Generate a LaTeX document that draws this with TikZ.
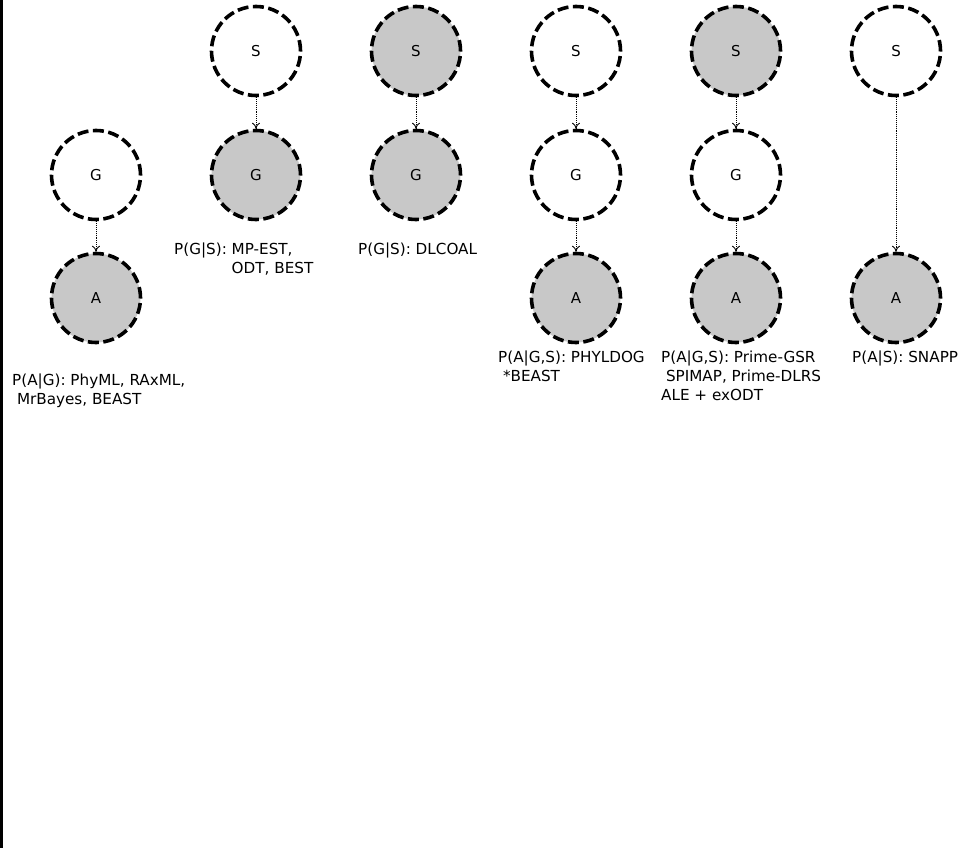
\documentclass[tikz,border=0pt]{standalone}
\usepackage{fontspec}
\setmainfont{DejaVu Sans}
\usetikzlibrary{arrows.meta}

\definecolor{obsgray}{RGB}{200,200,200}

\tikzset{
  latent/.style={circle, draw, line width=3.6pt, dash pattern=on 11pt off 4.5pt,
    minimum size=89pt, inner sep=0pt, font=\fontsize{15}{17}\selectfont},
  observed/.style={latent, fill=obsgray},
  dep/.style={-{To[length=6pt,width=8pt]}, densely dotted, line width=0.9pt},
  model/.style={anchor=north west, align=left, inner sep=0pt,
    font=\fontsize{15.2}{19}\selectfont}
}

\begin{document}
\begin{tikzpicture}[x=1pt, y=-1pt]
    \useasboundingbox (0,0) rectangle (969,848);
    \fill (0,0) rectangle (2.5,848);

    % Model 1 - sequence likelihood only
    \begin{scope}[xshift=96pt]
      \node[latent] (g1) at (0,175) {G};
      \node[observed] (a1) at (0,298) {A};
      \draw[dep] (g1) -- (a1);
      \node[model] (t1) at (-84,374) {P(A|G): PhyML, RAxML,\\\ MrBayes, BEAST};
    \end{scope}

    % Model 2 - gene trees given species tree
    \begin{scope}[xshift=256pt]
      \node[latent] (s2) at (0,51) {S};
      \node[observed] (g2) at (0,175) {G};
      \draw[dep] (s2) -- (g2);
      \node[model] (t2) at (-82,243) {P(G|S): MP-EST,\\\phantom{P(G|S): }ODT, BEST};
    \end{scope}

    % Model 3 - both observed
    \begin{scope}[xshift=416pt]
      \node[observed] (s3) at (0,51) {S};
      \node[observed] (g3) at (0,175) {G};
      \draw[dep] (s3) -- (g3);
      \node[model] (t3) at (-58,243) {P(G|S): DLCOAL};
    \end{scope}

    % Model 4 - full hierarchy, nothing observed but A
    \begin{scope}[xshift=576pt]
      \node[latent] (s4) at (0,51) {S};
      \node[latent] (g4) at (0,175) {G};
      \node[observed] (a4) at (0,298) {A};
      \draw[dep] (s4) -- (g4);
      \draw[dep] (g4) -- (a4);
      \node[model] (t4) at (-78,351) {P(A|G,S): PHYLDOG\\\ *BEAST};
    \end{scope}

    % Model 5 - species tree given
    \begin{scope}[xshift=736pt]
      \node[observed] (s5) at (0,51) {S};
      \node[latent] (g5) at (0,175) {G};
      \node[observed] (a5) at (0,298) {A};
      \draw[dep] (s5) -- (g5);
      \draw[dep] (g5) -- (a5);
      \node[model] (t5) at (-75,351) {P(A|G,S): Prime-GSR\\\ SPIMAP, Prime-DLRS\\ALE + exODT};
    \end{scope}

    % Model 6 - gene trees integrated out
    \begin{scope}[xshift=896pt]
      \node[latent] (s6) at (0,51) {S};
      \node[observed] (a6) at (0,298) {A};
      \draw[dep] (s6) -- (a6);
      \node[model] (t6) at (-44,351) {P(A|S): SNAPP};
    \end{scope}
\end{tikzpicture}
\end{document}
